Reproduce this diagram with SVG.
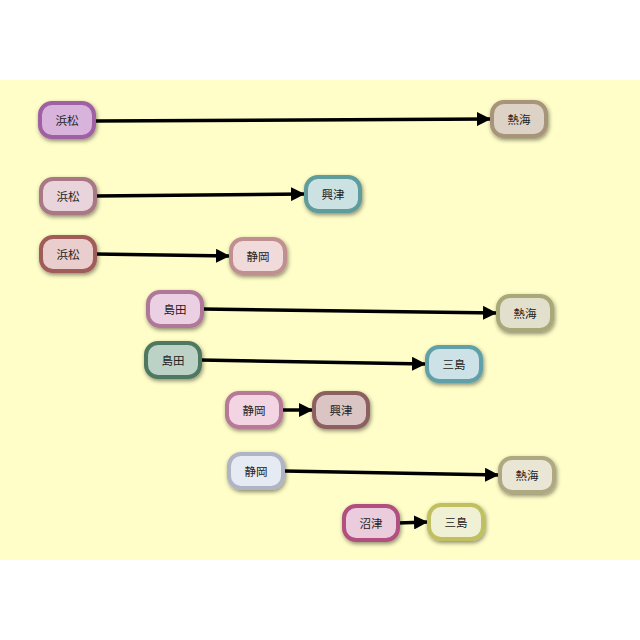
<svg xmlns="http://www.w3.org/2000/svg" width="640" height="640" viewBox="0 0 640 640">
<defs>
<filter id="sh" x="-30%" y="-30%" width="160%" height="170%">
<feDropShadow dx="1" dy="2" stdDeviation="2" flood-color="#000" flood-opacity="0.45"/>
</filter>
<marker id="ah" viewBox="0 0 14 14" refX="14" refY="7" markerWidth="14" markerHeight="14" markerUnits="userSpaceOnUse" orient="auto">
<path d="M0,0 L14,7 L0,14 Z" fill="#000"/>
</marker>
<style>
.n rect{stroke-width:4;filter:url(#sh)}
.n text{font-family:"Noto Sans CJK JP","Noto Sans",sans-serif;font-size:11.5px;fill:#222;text-anchor:middle;dominant-baseline:central}
.e line{stroke:#000;stroke-width:3.5;marker-end:url(#ah)}
</style>
</defs>
<rect x="0" y="80" width="640" height="480" fill="#FFFEC8"/>
<g id="edges" class="e">
<line x1="94" y1="121" x2="491" y2="119"/>
<line x1="95" y1="196" x2="305" y2="194"/>
<line x1="95" y1="254" x2="230" y2="256"/>
<line x1="202" y1="309" x2="497" y2="313"/>
<line x1="200" y1="360" x2="426" y2="364"/>
<line x1="282" y1="410" x2="313" y2="410"/>
<line x1="284" y1="471" x2="499" y2="475"/>
<line x1="398" y1="523" x2="428" y2="522"/>
</g>
<g id="n1" class="n"><rect x="40" y="103" width="54" height="34" rx="12" fill="#D8B4DC" stroke="#A060A4"/><text x="67" y="120">浜松</text></g>
<g id="n2" class="n"><rect x="492" y="102" width="54" height="34" rx="12" fill="#DCD2C6" stroke="#A89478"/><text x="519" y="119">熱海</text></g>
<g id="n3" class="n"><rect x="41" y="179" width="54" height="34" rx="12" fill="#EAD4DC" stroke="#A87884"/><text x="68" y="196">浜松</text></g>
<g id="n4" class="n"><rect x="306" y="177" width="54" height="34" rx="12" fill="#CCE2E2" stroke="#5E9C9C"/><text x="333" y="194">興津</text></g>
<g id="n5" class="n"><rect x="41" y="237" width="54" height="34" rx="12" fill="#EACECE" stroke="#A05C58"/><text x="68" y="254">浜松</text></g>
<g id="n6" class="n"><rect x="231" y="239" width="54" height="34" rx="12" fill="#F0DADA" stroke="#C09090"/><text x="258" y="256">静岡</text></g>
<g id="n7" class="n"><rect x="148" y="292" width="54" height="34" rx="12" fill="#EAD0E2" stroke="#B07898"/><text x="175" y="309">島田</text></g>
<g id="n8" class="n"><rect x="498" y="296" width="54" height="34" rx="12" fill="#E2E0CC" stroke="#A8A878"/><text x="525" y="313">熱海</text></g>
<g id="n9" class="n"><rect x="146" y="343" width="54" height="34" rx="12" fill="#BCD2C6" stroke="#507860"/><text x="173" y="360">島田</text></g>
<g id="n10" class="n"><rect x="427" y="347" width="54" height="34" rx="12" fill="#CCE2E6" stroke="#60A0A8"/><text x="454" y="364">三島</text></g>
<g id="n11" class="n"><rect x="227" y="393" width="54" height="34" rx="12" fill="#F2D4E2" stroke="#B87898"/><text x="254" y="410">静岡</text></g>
<g id="n12" class="n"><rect x="314" y="393" width="54" height="34" rx="12" fill="#DAC4C4" stroke="#8C6060"/><text x="341" y="410">興津</text></g>
<g id="n13" class="n"><rect x="229" y="454" width="54" height="34" rx="12" fill="#E6EAF2" stroke="#B0B4C4"/><text x="256" y="471">静岡</text></g>
<g id="n14" class="n"><rect x="500" y="458" width="54" height="34" rx="12" fill="#EAE6D6" stroke="#B0A880"/><text x="527" y="475">熱海</text></g>
<g id="n15" class="n"><rect x="344" y="506" width="54" height="34" rx="12" fill="#EACCDC" stroke="#B05080"/><text x="371" y="523">沼津</text></g>
<g id="n16" class="n"><rect x="429" y="505" width="54" height="34" rx="12" fill="#F0F0D4" stroke="#C0C060"/><text x="456" y="522">三島</text></g>
</svg>
